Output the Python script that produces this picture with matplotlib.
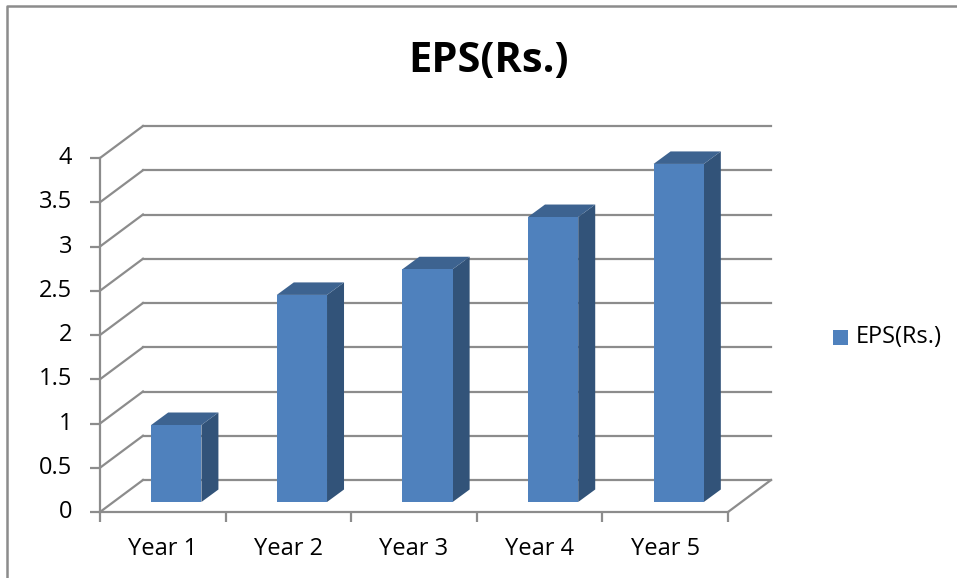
import matplotlib.pyplot as plt
from matplotlib.patches import Polygon, Rectangle

plt.rcParams["font.family"] = ["Open Sans", "DejaVu Sans"]

W, H = 957, 578

categories = ["Year 1", "Year 2", "Year 3", "Year 4", "Year 5"]
eps = [0.87, 2.34, 2.63, 3.22, 3.82]
y_ticks = [0, 0.5, 1, 1.5, 2, 2.5, 3, 3.5, 4]
y_tick_labels = ["0", "0.5", "1", "1.5", "2", "2.5", "3", "3.5", "4"]
series_name = "EPS(Rs.)"

FRONT = "#4F81BD"
TOP = "#3D6390"
SIDE = "#325379"
GRID = "#8C8C8C"

fig = plt.figure(figsize=(W / 100, H / 100), dpi=100)

# front plane of the fake 3d box, pixel position
left, right, bottom, top = 100, 728, 512, 158
ax = fig.add_axes([left / W, 1 - bottom / H, (right - left) / W, (bottom - top) / H])
ax.set_xlim(0, 5)
ax.set_ylim(0, 4)
ax.patch.set_alpha(0)
for s in ["top", "right"]:
    ax.spines[s].set_visible(False)
for s in ["left", "bottom"]:
    ax.spines[s].set_color(GRID)
    ax.spines[s].set_linewidth(1.6)

# depth of the box in data units
dx = 43 / ((right - left) / 5)
dy = 32 / ((bottom - top) / 4)

# walls: oblique lines plus back gridlines
for v in y_ticks:
    ax.plot([0, dx], [v, v + dy], color=GRID, lw=1.6, clip_on=False, zorder=1)
    ax.plot([dx, 5 + dx], [v + dy, v + dy], color=GRID, lw=1.6, clip_on=False, zorder=1)
ax.plot([5, 5 + dx], [0, dy], color=GRID, lw=1.6, clip_on=False, zorder=1)

# bars sit in the middle of the depth
bar_w = 0.4
off_x = 13.5 / ((right - left) / 5)
off_y = 10 / ((bottom - top) / 4)
side_x = 17 / ((right - left) / 5)
side_y = 12.5 / ((bottom - top) / 4)
for i, v in enumerate(eps):
    x0 = i + 0.5 - bar_w / 2 + off_x
    x1 = x0 + bar_w
    y0 = off_y
    y1 = off_y + v
    ax.add_patch(Polygon([(x1, y0), (x1 + side_x, y0 + side_y), (x1 + side_x, y1 + side_y), (x1, y1)],
                         fc=SIDE, ec="none", clip_on=False, zorder=3))
    ax.add_patch(Polygon([(x0, y1), (x1, y1), (x1 + side_x, y1 + side_y), (x0 + side_x, y1 + side_y)],
                         fc=TOP, ec="none", clip_on=False, zorder=3))
    ax.add_patch(Rectangle((x0, y0), bar_w, v, fc=FRONT, ec="none", clip_on=False, zorder=4))

ax.set_yticks(y_ticks)
ax.set_yticklabels(y_tick_labels, fontsize=17, color="black", va="center")
for lab in ax.get_yticklabels():
    lab.set_y(lab.get_position()[1])
ax.set_xticks(range(6))
ax.set_xticklabels([])
ax.set_xticks([i + 0.5 for i in range(5)], minor=True)
ax.set_xticklabels(categories, minor=True, fontsize=17, color="black")
ax.tick_params(axis="x", which="major", length=7, width=1.6, color=GRID)
ax.tick_params(axis="x", which="minor", length=0, pad=18)
ax.tick_params(axis="y", length=7, width=1.6, color=GRID, pad=13)

fig.text(488 / W, 1 - 61 / H, series_name, fontsize=30, fontweight="bold",
         ha="center", va="center", color="black")

# legend
fig.patches.append(Rectangle((833 / W, 1 - 344.5 / H), 15 / W, 15 / H, transform=fig.transFigure,
                             fc=FRONT, ec="none"))
fig.text(856 / W, 1 - 337 / H, series_name, fontsize=17, ha="left", va="center", color="black")

# chart frame, only the left and top edges show
frame_x = [7.5 / W, 7.5 / W, 1]
frame_y = [0, 1 - 6 / H, 1 - 6 / H]
fig.add_artist(plt.Line2D(frame_x, frame_y, color=GRID, lw=1.8))

fig.savefig("out.png", dpi=100)
